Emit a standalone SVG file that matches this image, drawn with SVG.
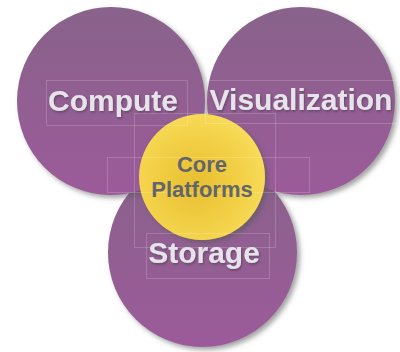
<svg xmlns="http://www.w3.org/2000/svg" width="400" height="352" viewBox="0 0 400 352">
<defs>
<linearGradient id="purple" x1="0" y1="0" x2="0" y2="1">
<stop offset="0" stop-color="#88638A"/>
<stop offset="1" stop-color="#9C5A9A"/>
</linearGradient>
<radialGradient id="yellow" cx="0.45" cy="0.55" r="0.6">
<stop offset="0" stop-color="#E8BF30"/>
<stop offset="0.6" stop-color="#F2D046"/>
<stop offset="1" stop-color="#F9DD5C"/>
</radialGradient>
<filter id="shadow" x="-20%" y="-20%" width="140%" height="140%">
<feDropShadow dx="3" dy="3" stdDeviation="2.5" flood-color="#555" flood-opacity="0.55"/>
</filter>
<filter id="tshadow" x="-10%" y="-20%" width="120%" height="140%">
<feDropShadow dx="1" dy="1.5" stdDeviation="1" flood-color="#3a2a3a" flood-opacity="0.5"/>
</filter>
<style>
.circ{fill:url(#purple);filter:url(#shadow);}
.core{fill:url(#yellow);filter:url(#shadow);}
.lbl{font-family:"Liberation Sans",Arial,sans-serif;font-weight:bold;font-size:30px;fill:#E6E4EA;text-anchor:middle;filter:url(#tshadow);}
.clbl{font-family:"Liberation Sans",Arial,sans-serif;font-weight:bold;font-size:22px;fill:#63656D;text-anchor:middle;}
.box{fill:none;stroke:#ffffff;stroke-opacity:0.18;stroke-width:1;}
</style>
</defs>
<rect width="400" height="352" fill="#ffffff"/>
<g id="storage">
<circle class="circ" cx="202.5" cy="252.5" r="94.5"/>
</g>
<g id="compute">
<circle class="circ" cx="111" cy="101" r="94"/>
</g>
<g id="visualization">
<circle class="circ" cx="301" cy="101" r="94"/>
</g>
<g id="core-platforms">
<circle class="core" cx="202" cy="177" r="63"/>
</g>
<g id="boxes">
<rect class="box" x="46.5" y="80.5" width="141" height="45"/>
<rect class="box" x="205.5" y="80.5" width="192" height="43"/>
<rect class="box" x="134.5" y="113.5" width="141" height="134"/>
<rect class="box" x="107.5" y="157.5" width="202" height="35"/>
<rect class="box" x="146.5" y="233.5" width="123" height="45"/>
</g>
<g id="labels">
<text class="lbl" x="113" y="111">Compute</text>
<text class="lbl" x="301" y="110">Visualization</text>
<text class="lbl" x="204" y="263">Storage</text>
<text class="clbl" x="202" y="172">Core</text>
<text class="clbl" x="202" y="197">Platforms</text>
</g>
</svg>
